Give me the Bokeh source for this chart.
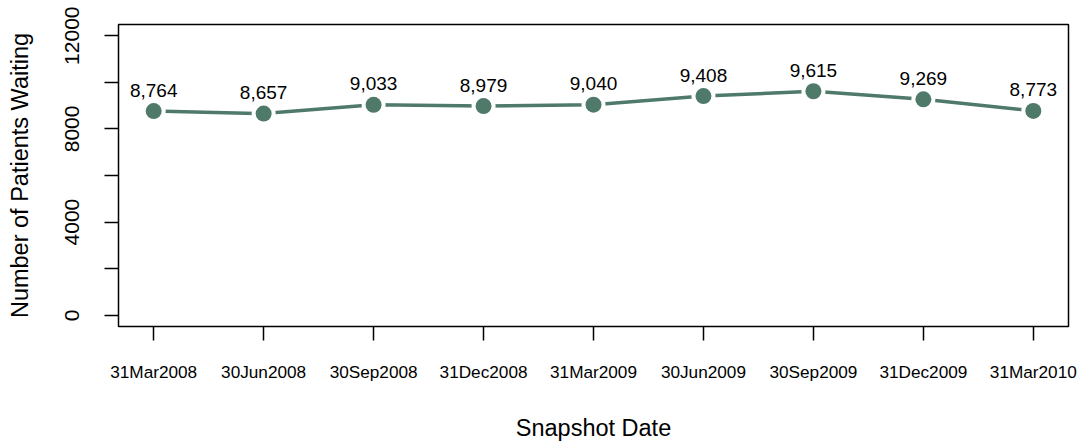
from bokeh.plotting import figure
from bokeh.models import ColumnDataSource, FixedTicker, Range1d
from bokeh.core.properties import value
from bokeh.embed import file_html
from bokeh.resources import INLINE

dates = ["31Mar2008", "30Jun2008", "30Sep2008", "31Dec2008", "31Mar2009",
         "30Jun2009", "30Sep2009", "31Dec2009", "31Mar2010"]
waiting = [8764, 8657, 9033, 8979, 9040, 9408, 9615, 9269, 8773]
y_ticks = [0, 2000, 4000, 6000, 8000, 10000, 12000]
y_labeled = [0, 4000, 8000, 12000]

FONT = "Liberation Sans"
COL = "#4f7a6a"

xs = list(range(1, len(dates) + 1))
src = ColumnDataSource(dict(x=xs, y=waiting, lab=[f"{v:,}" for v in waiting]))

p = figure(width=1082, height=443, output_backend="svg", toolbar_location=None,
           x_range=Range1d(0.68, 9.32), y_range=Range1d(-480, 12480),
           min_border_left=118, min_border_right=14, min_border_top=24, min_border_bottom=115)
p.background_fill_color = "white"
p.border_fill_color = "white"
p.xgrid.visible = False
p.ygrid.visible = False
p.outline_line_color = "black"
p.outline_line_width = 1.5

p.line("x", "y", source=src, line_color=COL, line_width=3.5)
p.scatter("x", "y", source=src, size=24, fill_color="white", line_color=None)
p.scatter("x", "y", source=src, size=16, fill_color=COL, line_color=None)
p.text("x", "y", text="lab", source=src, text_font=value(FONT), text_font_size="19px",
       text_align="center", text_baseline="middle", y_offset=-21, text_color="black")

# x axis
p.xaxis.ticker = FixedTicker(ticks=xs)
p.xaxis.major_label_overrides = {x: d for x, d in zip(xs, dates)}
p.xaxis.axis_label = "Snapshot Date"
p.xaxis.major_tick_out = 14
p.xaxis.major_tick_in = 0
p.xaxis.minor_tick_out = 0
p.xaxis.major_label_standoff = 21
p.xaxis.major_label_text_font_size = "17.2px"
p.xaxis.axis_label_standoff = 30

# y axis
p.yaxis.ticker = FixedTicker(ticks=y_ticks)
p.yaxis.major_label_overrides = {t: (str(t) if t in y_labeled else "") for t in y_ticks}
p.yaxis.axis_label = "Number of Patients Waiting"
p.yaxis.major_label_orientation = "vertical"
p.yaxis.major_tick_out = 14
p.yaxis.major_tick_in = 0
p.yaxis.minor_tick_out = 0
p.yaxis.major_label_standoff = 25
p.yaxis.major_label_text_font_size = "21px"
p.yaxis.axis_label_standoff = 30

for ax in (p.xaxis[0], p.yaxis[0]):
    ax.axis_line_color = None
    ax.major_tick_line_color = "black"
    ax.major_tick_line_width = 1.5
    ax.major_label_text_font = FONT
    ax.major_label_text_color = "black"
    ax.axis_label_text_font = FONT
    ax.axis_label_text_font_style = "normal"
    ax.axis_label_text_font_size = "23.5px"
    ax.axis_label_text_color = "black"

open("out.html", "w").write(file_html(p, INLINE))
